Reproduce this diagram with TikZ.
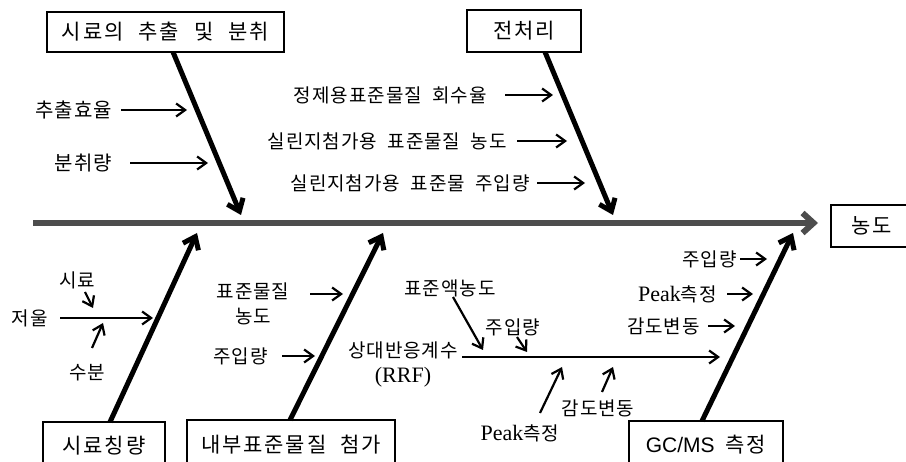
\documentclass[tikz,border=0pt]{standalone}
\usepackage{fontspec}
\setmainfont{Liberation Serif}
\setsansfont{Liberation Sans}
\newfontfamily\kr[LetterSpace=5,WordSpace=2.0]{Noto Sans CJK KR}
\newfontfamily\krb[LetterSpace=9]{Noto Sans CJK KR}
\usetikzlibrary{arrows.meta}
\definecolor{spinegray}{HTML}{4D4D4D}
\newcommand\pk{{\fontsize{22}{24}\rmfamily Peak}}
\begin{document}
\begin{tikzpicture}[x=1pt,y=-1pt,
  box/.style={draw,line width=2.2pt,inner sep=0pt,font=\fontsize{21}{23}\selectfont\krb},
  lbl/.style={inner sep=0pt,font=\fontsize{19}{25}\selectfont\kr},
  biglbl/.style={inner sep=0pt,font=\fontsize{20}{25}\selectfont\kr},
  thinarrow/.style={line width=2.2pt,-{Straight Barb[length=9pt,width=13pt]}},
  bone/.style={line width=5pt,-{Straight Barb[length=11pt,width=17pt]}},
  spine/.style={line width=6pt,draw=spinegray,-{Straight Barb[length=11pt,width=20pt]}}]
\useasboundingbox (0,0) rectangle (906,462);
% boxes
\node[box,minimum width=237pt,minimum height=40pt] (b1) at (165.5,32) {시료의\hspace{15pt}추출\hspace{15pt}및\hspace{15pt}분취};
\node[box,minimum width=114pt,minimum height=42pt] (b2) at (524,31) {전처리};
\node[box,minimum width=81pt,minimum height=42pt] (b3) at (871.5,226) {농도};
\node[box,minimum width=122pt,minimum height=48pt] (b4) at (104,446) {시료칭량};
\node[box,minimum width=208pt,minimum height=50pt] (b5) at (291,445) {내부표준물질\hspace{14pt}첨가};
\node[box,minimum width=154pt,minimum height=48pt] (b6) at (706,445) {{\sffamily GC/MS}\hspace{11pt}측정};
% spine
\coordinate (sp0) at (33,223);
\coordinate (sp1) at (818,223);
\draw[spine] (sp0) -- (sp1);
% bones
\coordinate (s1) at (173,52);  \coordinate (e1) at (241,215);
\coordinate (s2) at (545,52);  \coordinate (e2) at (613,215);
\coordinate (s4) at (110,422); \coordinate (e4) at (197,233);
\coordinate (s5) at (290,420); \coordinate (e5) at (383,233);
\coordinate (s6) at (702,421); \coordinate (e6) at (793,233);
\draw[bone] (s1) -- (e1);
\draw[bone] (s2) -- (e2);
\draw[bone] (s4) -- (e4);
\draw[bone] (s5) -- (e5);
\draw[bone] (s6) -- (e6);
% top-left labels
\node[biglbl,anchor=east] (l1) at (112,110) {추출효율};
\coordinate (a1) at (187,110);
\draw[thinarrow] ([xshift=9pt]l1.east) -- (a1);
\node[biglbl,anchor=east] (l2) at (112,163) {분취량};
\coordinate (a2) at (208,163);
\draw[thinarrow] ([xshift=18pt]l2.east) -- (a2);
% top-right labels
\node[lbl,anchor=east] (l3) at (487,95) {정제용표준물질 회수율};
\coordinate (a3) at (553,95);
\draw[thinarrow] ([xshift=18pt]l3.east) -- (a3);
\node[lbl,anchor=east] (l4) at (507,141) {실린지첨가용 표준물질 농도};
\coordinate (a4) at (567,141);
\draw[thinarrow] ([xshift=10pt]l4.east) -- (a4);
\node[lbl,anchor=east] (l5) at (530,183) {실린지첨가용 표준물 주입량};
\coordinate (a5) at (585,183);
\draw[thinarrow] ([xshift=7pt]l5.east) -- (a5);
% bottom-left (시료칭량)
\node[lbl,anchor=east] (l6) at (48,318) {저울};
\coordinate (a6) at (153,318);
\draw[thinarrow] ([xshift=12pt]l6.east) -- (a6);
\node[lbl] (l17) at (77,280) {시료};
\coordinate (a17s) at (85,292); \coordinate (a17e) at (93,308);
\draw[thinarrow] (a17s) -- (a17e);
\node[lbl] (l18) at (87,373) {수분};
\coordinate (a18s) at (92,348); \coordinate (a18e) at (103,323);
\draw[thinarrow] (a18s) -- (a18e);
% 내부표준물질 첨가
\node[lbl,align=center] (l7) at (253,304) {표준물질\\농도};
\coordinate (a7s) at (310,294); \coordinate (a7e) at (343,294);
\draw[thinarrow] (a7s) -- (a7e);
\node[lbl,anchor=east] (l8) at (268,356) {주입량};
\coordinate (a8) at (315,356);
\draw[thinarrow] ([xshift=14pt]l8.east) -- (a8);
% RRF
\node[lbl,align=center] (l9) at (403,364) {상대반응계수\\{\fontsize{22}{25}\rmfamily (RRF)}};
\coordinate (rs) at (462,357); \coordinate (re) at (720,357);
\draw[thinarrow] (rs) -- (re);
\node[lbl] (l10) at (450,288) {표준액농도};
\coordinate (a10s) at (453,297); \coordinate (a10e) at (483,350);
\draw[thinarrow] (a10s) -- (a10e);
\node[lbl] (l11) at (513,327) {주입량};
\coordinate (a11s) at (517,337); \coordinate (a11e) at (527,352);
\draw[thinarrow] (a11s) -- (a11e);
\node[lbl] (l12) at (520,433) {\pk 측정};
\coordinate (a12s) at (540,413); \coordinate (a12e) at (562,367);
\draw[thinarrow] (a12s) -- (a12e);
\node[lbl] (l13) at (598,408) {감도변동};
\coordinate (a13s) at (602,392); \coordinate (a13e) at (613,367);
\draw[thinarrow] (a13s) -- (a13e);
% GC/MS labels
\node[lbl,anchor=east] (l14) at (737,259) {주입량};
\coordinate (a14) at (767,259);
\draw[thinarrow] ([xshift=3pt]l14.east) -- (a14);
\node[lbl,anchor=east] (l15) at (717,294) {\pk 측정};
\coordinate (a15) at (753,294);
\draw[thinarrow] ([xshift=10pt]l15.east) -- (a15);
\node[lbl,anchor=east] (l16) at (700,326) {감도변동};
\coordinate (a16) at (735,326);
\draw[thinarrow] ([xshift=8pt]l16.east) -- (a16);
\end{tikzpicture}
\end{document}
